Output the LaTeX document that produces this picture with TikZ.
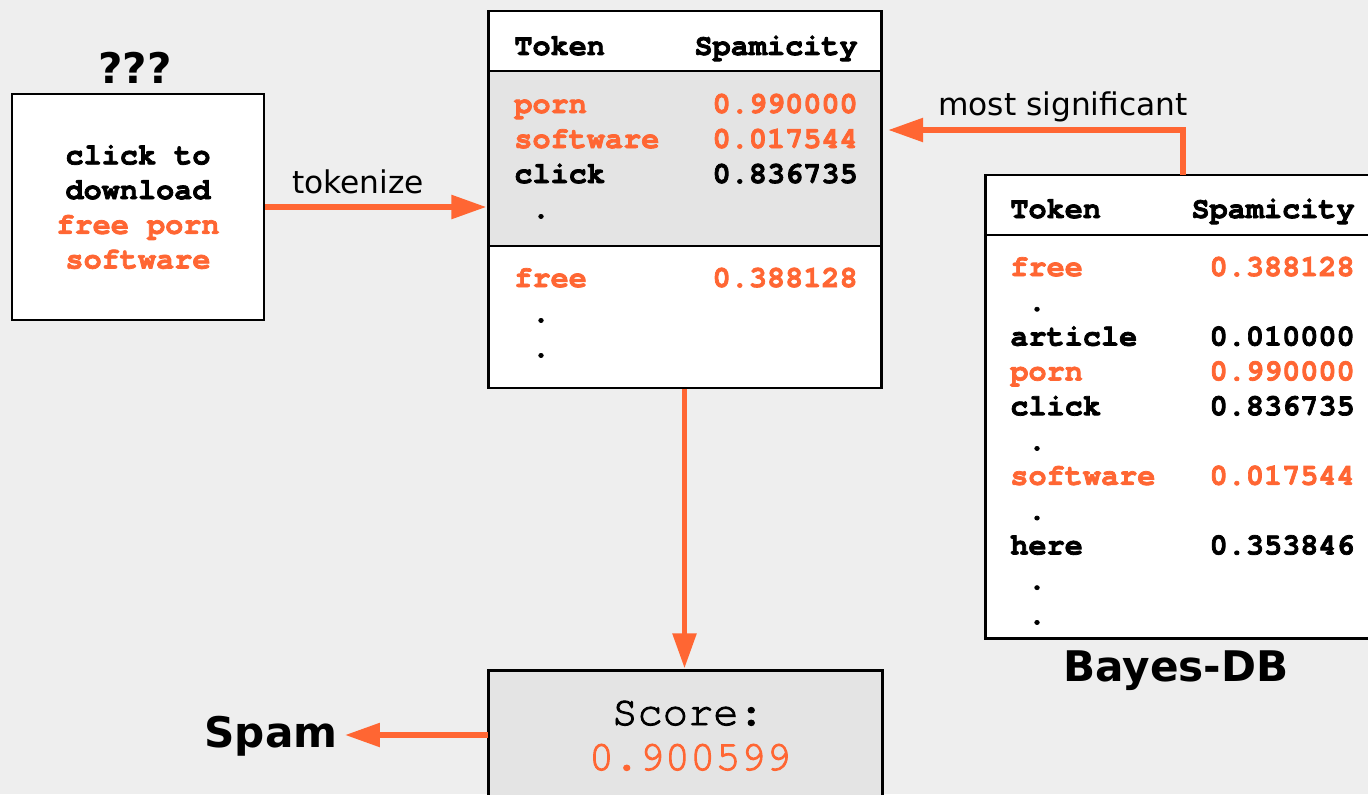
\documentclass[tikz,border=0pt]{standalone}
\usepackage{fontspec}
\setmainfont{DejaVu Sans}
\newfontfamily\courier{TeX Gyre Cursor}[UprightFeatures={FakeBold=2.2}, BoldFeatures={FakeBold=2.4}]
\usetikzlibrary{arrows.meta,fit}
\definecolor{spamorange}{RGB}{255,102,51}
\definecolor{cellgrey}{RGB}{228,228,228}
\definecolor{paper}{RGB}{238,238,238}

\begin{document}
\begin{tikzpicture}[x=0.02cm,y=-0.02cm,
    box/.style ={draw, line width=1.7pt, inner sep=0pt},
    rule/.style ={line width=1.7pt},
    cell/.style ={font=\courier\fontsize{17.2}{19.75}\selectfont\bfseries, inner sep=0pt},
    hot/.style ={cell, text=spamorange},
    lbl/.style ={font=\fontsize{17.8}{21}\selectfont, inner sep=0pt},
    big/.style ={font=\fontsize{24}{28}\selectfont\bfseries, inner sep=0pt},
    arr/.style ={draw=spamorange, line width=3.4pt, -{Triangle[length=20pt,width=13pt]}}]
   \useasboundingbox (0,0) rectangle (1368,794);
   \clip (0,0) rectangle (1368,794);
   \fill[paper] (0,0) rectangle (1368,794);
   % incoming mail
   \node[big, anchor=base] (qq) at (135,84) {???};
   \node[box, fill=white, fit={(12,94) (264,320)}] (msg) {};
   \node[cell, align=center] (mail) at (msg.center) {click to\\download\\\textcolor{spamorange}{free porn}\\\textcolor{spamorange}{software}};
   % tokens of the mail
   \node[box, fill=white, fit={(488,11) (881,388)}] (tbl) {};
   \node[box, fill=cellgrey, fit={(488,71) (881,246)}] (best) {};
   \node[cell, anchor=base west] (thtok) at (514,55) {Token};
   \node[cell, anchor=base east] (thspam) at (858,55) {Spamicity};
   \node[hot, anchor=base west] (tporn) at (514,113) {porn};
   \node[hot, anchor=base east] (vporn) at (858,113) {0.990000};
   \node[hot, anchor=base west] (tsoft) at (514,148) {software};
   \node[hot, anchor=base east] (vsoft) at (858,148) {0.017544};
   \node[cell, anchor=base west] (tclick) at (514,183) {click};
   \node[cell, anchor=base east] (vclick) at (858,183) {0.836735};
   \node[cell, anchor=base] (tdot) at (541,218) {.};
   \node[hot, anchor=base west] (tfree) at (514,287) {free};
   \node[hot, anchor=base east] (vfree) at (858,287) {0.388128};
   \node[cell, anchor=base] (tdota) at (541,322) {.};
   \node[cell, anchor=base] (tdotb) at (541,357) {.};
   % database
   \node[box, fill=white, fit={(985,175) (1400,638)}] (db) {};
   \draw[rule] (985,235) -- (1400,235);
   \node[cell, anchor=base west] (dhtok) at (1010,218) {Token};
   \node[cell, anchor=base east] (dhspam) at (1355,218) {Spamicity};
   \node[hot, anchor=base west] (dfree) at (1010,276) {free};
   \node[hot, anchor=base east] (dvfree) at (1355,276) {0.388128};
   \node[cell, anchor=base] (ddota) at (1037,310.8) {.};
   \node[cell, anchor=base west] (dart) at (1010,345.6) {article};
   \node[cell, anchor=base east] (dvart) at (1355,345.6) {0.010000};
   \node[hot, anchor=base west] (dporn) at (1010,380.4) {porn};
   \node[hot, anchor=base east] (dvporn) at (1355,380.4) {0.990000};
   \node[cell, anchor=base west] (dclick) at (1010,415.2) {click};
   \node[cell, anchor=base east] (dvclick) at (1355,415.2) {0.836735};
   \node[cell, anchor=base] (ddotb) at (1037,450) {.};
   \node[hot, anchor=base west] (dsoft) at (1010,484.8) {software};
   \node[hot, anchor=base east] (dvsoft) at (1355,484.8) {0.017544};
   \node[cell, anchor=base] (ddotc) at (1037,519.6) {.};
   \node[cell, anchor=base west] (dhere) at (1010,554.4) {here};
   \node[cell, anchor=base east] (dvhere) at (1355,554.4) {0.353846};
   \node[cell, anchor=base] (ddotd) at (1037,589.2) {.};
   \node[cell, anchor=base] (ddote) at (1037,624) {.};
   \node[big, anchor=base] (dbname) at (1176,681) {Bayes-DB};
   % score
   \node[box, fill=cellgrey, fit={(488,670) (882,830)}] (score) {};
   \node[font=\courier\fontsize{24}{25}\selectfont, inner sep=0pt, anchor=base] (scorelbl) at (688,725) {Score:};
   \node[font=\courier\fontsize{24}{25}\selectfont, text=spamorange, inner sep=0pt, anchor=base] (scoreval) at (690,770) {0.900599};
   \node[big, anchor=base, inner sep=4pt] (spam) at (271,747) {Spam};
   % connectors
   \coordinate (dbout) at (1183,175);
   \coordinate (bestin) at (888,130);
   \coordinate (scoreout) at (488,735);
   \draw[arr] (msg.east) -- (tbl.west |- msg.east);
   \node[lbl, anchor=base] (toklbl) at (358,193) {tokenize};
   \draw[arr] (dbout) |- (bestin);
   \node[lbl, anchor=base] (siglbl) at (1063,115) {most significant};
   \draw[arr] (tbl.south) -- (tbl.south |- score.north);
   \draw[arr] (scoreout) -- (spam.east |- scoreout);
 \end{tikzpicture}
\end{document}
